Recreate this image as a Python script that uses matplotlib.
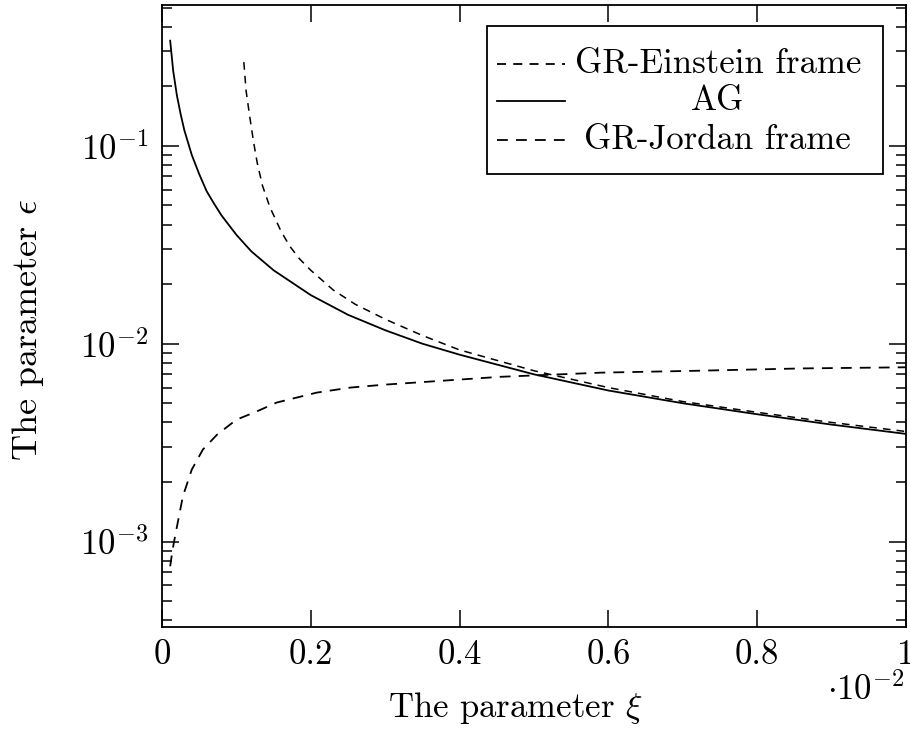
import matplotlib
matplotlib.use("Agg")
import matplotlib.pyplot as plt
from matplotlib.lines import Line2D
from matplotlib.patches import Rectangle
from matplotlib.ticker import FixedLocator, NullFormatter, LogLocator

plt.rcParams['font.family'] = ['cmr10', 'DejaVu Serif']
plt.rcParams['mathtext.fontset'] = 'cm'
plt.rcParams['axes.unicode_minus'] = False
plt.rcParams['axes.formatter.use_mathtext'] = True

# AG (solid)
xi_ag = [0.011, 0.015, 0.02, 0.025, 0.03, 0.04, 0.05, 0.06, 0.07, 0.08, 0.1, 0.12, 0.15,
         0.2, 0.25, 0.3, 0.35, 0.4, 0.5, 0.6, 0.7, 0.8, 0.9, 1.0]
eps_ag = [0.34, 0.24, 0.18, 0.145, 0.12, 0.09, 0.072, 0.059, 0.051, 0.0445, 0.0355, 0.0293,
          0.0235, 0.0176, 0.014, 0.0117, 0.010, 0.0088, 0.0070, 0.0058, 0.0050, 0.0044,
          0.0039, 0.0035]

# GR-Einstein frame (dashed)
xi_ein = [0.11, 0.113, 0.118, 0.123, 0.128, 0.135, 0.145, 0.16, 0.172, 0.185, 0.2, 0.23,
          0.26, 0.3, 0.35, 0.4, 0.5, 0.6, 0.7, 0.8, 0.9, 1.0]
eps_ein = [0.265, 0.19, 0.14, 0.105, 0.082, 0.063, 0.049, 0.037, 0.031, 0.0268, 0.0235,
           0.0187, 0.0158, 0.0133, 0.0110, 0.0093, 0.0073, 0.0060, 0.0051, 0.0045, 0.0040,
           0.0036]

# GR-Jordan frame (dashed)
xi_jor = [0.011, 0.014, 0.0175, 0.028, 0.04, 0.055, 0.074, 0.1, 0.127, 0.154, 0.208, 0.253,
          0.297, 0.364, 0.454, 0.59, 0.72, 0.86, 1.0]
eps_jor = [0.00075, 0.0009, 0.00106, 0.00169, 0.00231, 0.00292, 0.00347, 0.00413, 0.00454,
           0.00504, 0.00566, 0.0060, 0.0062, 0.00645, 0.0068, 0.00714, 0.0073, 0.0075, 0.0076]

x_ticks = [0, 0.2, 0.4, 0.6, 0.8, 1]
x_ticklabels = ['0', '0.2', '0.4', '0.6', '0.8', '1']
y_ticks = [1e-3, 1e-2, 1e-1]
y_ticklabels = [r'$10^{-3}$', r'$10^{-2}$', r'$10^{-1}$']
labels = ['GR-Einstein frame', 'AG', 'GR-Jordan frame']

W, H = 910, 733
fig = plt.figure(figsize=(W / 100, H / 100), dpi=100)
ax = fig.add_axes([162 / W, 1 - 627 / H, (906 - 162) / W, (627 - 5) / H])

lw = 1.1
ax.plot(xi_ein, eps_ein, color='black', lw=lw, dashes=(5, 4))
ax.plot(xi_ag, eps_ag, color='black', lw=lw + 0.2)
ax.plot(xi_jor, eps_jor, color='black', lw=lw + 0.2, dashes=(6, 4.5))

ax.set_yscale('log')
ax.set_xlim(0, 1)
ax.set_ylim(3.7e-4, 0.515)

ax.xaxis.set_major_locator(FixedLocator(x_ticks))
ax.set_xticklabels(x_ticklabels)
ax.yaxis.set_major_locator(FixedLocator(y_ticks))
ax.set_yticklabels(y_ticklabels)
ax.yaxis.set_minor_locator(LogLocator(base=10, subs=range(2, 10), numticks=20))
ax.yaxis.set_minor_formatter(NullFormatter())
ax.xaxis.set_minor_locator(FixedLocator([]))

ax.tick_params(which='both', direction='in', top=True, right=True, width=1.1, labelsize=25)
ax.tick_params(which='major', length=12)
ax.tick_params(which='minor', length=7)
ax.tick_params(axis='x', pad=9)
ax.tick_params(axis='y', pad=10)
for s in ax.spines.values():
    s.set_linewidth(1.3)

fig.text(515 / W, 1 - 708 / H, r'The parameter $\xi$', ha='center', va='center', fontsize=25)
fig.text(28 / W, 1 - 330 / H, r'The parameter $\epsilon$', ha='center', va='center',
         rotation=90, fontsize=26)
fig.text(866 / W, 1 - 690 / H, r'$\cdot 10^{-2}$', ha='center', va='center', fontsize=25)

# legend drawn by hand (centered text like pgfplots)
lx0, lx1, ly0, ly1 = 0.437, 0.969, 0.728, 0.966
ax.add_patch(Rectangle((lx0, ly0), lx1 - lx0, ly1 - ly0, transform=ax.transAxes,
                       facecolor='white', edgecolor='black', lw=1.3, zorder=5))
rows = [0.905, 0.845, 0.783]
styles = [dict(dashes=(5, 4)), dict(), dict(dashes=(6, 4.5))]
for lab, yy, st in zip(labels, rows, styles):
    ax.add_line(Line2D([0.450, 0.542], [yy, yy], transform=ax.transAxes, color='black',
                       lw=lw + 0.2, zorder=6, **st))
    ax.text(0.747, yy, lab, transform=ax.transAxes, ha='center', va='center',
            fontsize=25, zorder=6)

fig.savefig('out.png', dpi=100)
